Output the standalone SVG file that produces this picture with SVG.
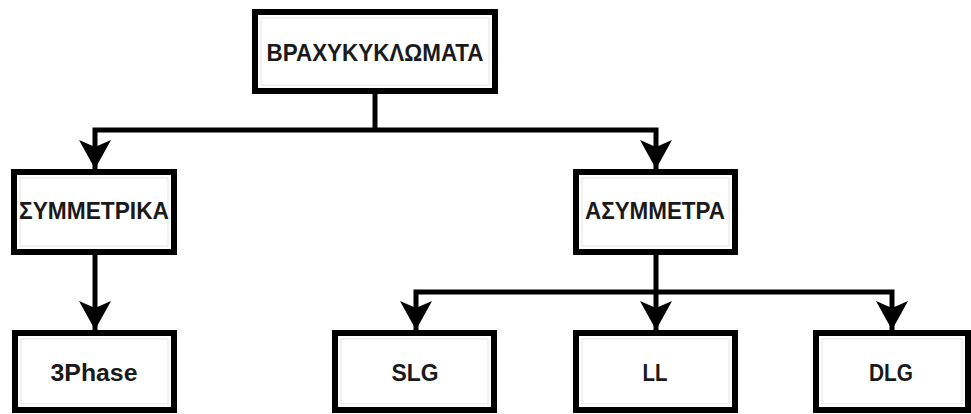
<svg xmlns="http://www.w3.org/2000/svg" width="971" height="414" viewBox="0 0 971 414">
<style>
.box{fill:#fff;stroke:#000;stroke-width:6}
.inner{fill:none;stroke:#e4e4e4;stroke-width:1}
.lbl{font-family:"Liberation Sans",Arial,sans-serif;font-size:23px;font-weight:bold;fill:#1a1a1a;text-anchor:middle;dominant-baseline:central}
.con{fill:none;stroke:#000;stroke-width:5}
</style>
<defs>
<marker id="ah" markerUnits="userSpaceOnUse" markerWidth="32" markerHeight="34" viewBox="-30 -17 32 34" refX="0" refY="0" orient="auto">
<path d="M0,0 L-29,-16 L-22,0 L-29,16 Z" fill="#000"/>
</marker>
</defs>
<g id="connectors">
<path class="con" d="M375,93 V130"/>
<path class="con" d="M375,130 H95 V169" marker-end="url(#ah)"/>
<path class="con" d="M375,130 H656 V169" marker-end="url(#ah)"/>
<path class="con" d="M95,255 V330" marker-end="url(#ah)"/>
<path class="con" d="M656,255 V292"/>
<path class="con" d="M656,292 H416 V330" marker-end="url(#ah)"/>
<path class="con" d="M656,292 V330" marker-end="url(#ah)"/>
<path class="con" d="M656,292 H892 V330" marker-end="url(#ah)"/>
</g>
<g id="n_root">
<rect class="box" x="255" y="12" width="240" height="79"/>
<rect class="inner" x="261" y="18" width="228" height="67"/>
<text class="lbl" x="375" y="53" textLength="217" lengthAdjust="spacingAndGlyphs">ΒΡΑΧΥΚΥΚΛΩΜΑΤΑ</text>
</g>
<g id="n_sym">
<rect class="box" x="14" y="172" width="160" height="80"/>
<rect class="inner" x="20" y="178" width="148" height="68"/>
<text class="lbl" x="94" y="211" textLength="150" lengthAdjust="spacingAndGlyphs">ΣΥΜΜΕΤΡΙΚΑ</text>
</g>
<g id="n_asym">
<rect class="box" x="576" y="172" width="159" height="80"/>
<rect class="inner" x="582" y="178" width="147" height="68"/>
<text class="lbl" x="655" y="211" textLength="140" lengthAdjust="spacingAndGlyphs">ΑΣΥΜΜΕΤΡΑ</text>
</g>
<g id="n_3phase">
<rect class="box" x="15" y="333" width="159" height="77"/>
<rect class="inner" x="21" y="339" width="147" height="65"/>
<text class="lbl" x="94" y="373" textLength="87" lengthAdjust="spacingAndGlyphs">3Phase</text>
</g>
<g id="n_slg">
<rect class="box" x="335" y="333" width="159" height="77"/>
<rect class="inner" x="341" y="339" width="147" height="65"/>
<text class="lbl" x="415" y="373" textLength="47" lengthAdjust="spacingAndGlyphs">SLG</text>
</g>
<g id="n_ll">
<rect class="box" x="576" y="333" width="159" height="77"/>
<rect class="inner" x="582" y="339" width="147" height="65"/>
<text class="lbl" x="655" y="373" textLength="25" lengthAdjust="spacingAndGlyphs">LL</text>
</g>
<g id="n_dlg">
<rect class="box" x="816" y="333" width="152" height="77"/>
<rect class="inner" x="822" y="339" width="140" height="65"/>
<text class="lbl" x="891" y="373" textLength="44" lengthAdjust="spacingAndGlyphs">DLG</text>
</g>
</svg>
